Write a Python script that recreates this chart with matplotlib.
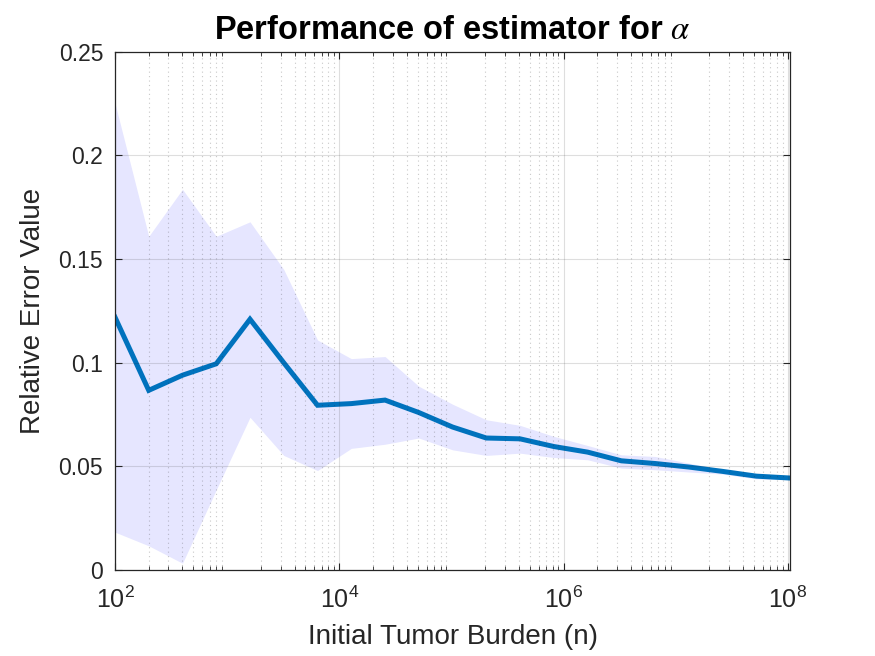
import matplotlib
matplotlib.use("Agg")
import matplotlib.pyplot as plt
import numpy as np
from matplotlib.ticker import FixedLocator, FixedFormatter, LogLocator, NullFormatter

# initial tumor burden: doubling from 100
burden = [100 * 2 ** k for k in range(21)]

mean_err = [0.122, 0.0867, 0.094, 0.0995, 0.121, 0.100, 0.0795, 0.0803, 0.082, 0.076,
            0.069, 0.0637, 0.0633, 0.0596, 0.0569, 0.0527, 0.0514, 0.0497, 0.0476, 0.0453,
            0.0444]
upper_err = [0.2253, 0.161, 0.1837, 0.161, 0.168, 0.145, 0.111, 0.102, 0.103, 0.0887,
             0.080, 0.0725, 0.0698, 0.0645, 0.0601, 0.0556, 0.0548, 0.0516, 0.0484, 0.0463,
             0.0452]
lower_err = [0.0183, 0.0117, 0.0033, 0.0387, 0.0737, 0.0553, 0.048, 0.0587, 0.0607, 0.0637,
             0.058, 0.0553, 0.0564, 0.0543, 0.0532, 0.0492, 0.0484, 0.0473, 0.0463, 0.0440,
             0.0436]

y_ticks = [0, 0.05, 0.1, 0.15, 0.2, 0.25]
y_tick_labels = ["0", "0.05", "0.1", "0.15", "0.2", "0.25"]
x_ticks = [1e2, 1e4, 1e6, 1e8]
x_tick_labels = [r"$\mathregular{10^{2}}$", r"$\mathregular{10^{4}}$",
                 r"$\mathregular{10^{6}}$", r"$\mathregular{10^{8}}$"]

plt.rcParams.update({
    "font.family": ["Liberation Sans", "DejaVu Sans"],
    "mathtext.fontset": "stix",
    "axes.edgecolor": "#262626",
    "xtick.color": "#262626",
    "ytick.color": "#262626",
    "xtick.direction": "in",
    "ytick.direction": "in",
})

fig = plt.figure(figsize=(8.75, 6.56), dpi=100)
ax = fig.add_axes([0.1314, 0.131, 0.7716, 0.790])

ax.fill_between(burden, lower_err, upper_err, color=(0.9, 0.9, 1.0), linewidth=0)
ax.plot(burden, mean_err, color="#0072BD", linewidth=3.6, solid_joinstyle="miter")

ax.set_xscale("log")
ax.set_xlim(burden[0], burden[-1])
ax.set_ylim(0, 0.25)

ax.xaxis.set_major_locator(FixedLocator(x_ticks))
ax.xaxis.set_major_formatter(FixedFormatter(x_tick_labels))
ax.xaxis.set_minor_locator(LogLocator(base=10, subs=np.arange(2, 10), numticks=20))
ax.xaxis.set_minor_formatter(NullFormatter())
ax.yaxis.set_major_locator(FixedLocator(y_ticks))
ax.yaxis.set_major_formatter(FixedFormatter(y_tick_labels))

ax.tick_params(which="both", top=True, right=True)
ax.tick_params(which="major", length=5, width=0.8)
ax.tick_params(which="minor", length=3, width=0.6)
ax.tick_params(axis="y", which="major", pad=8.5, labelsize=16.5)
ax.tick_params(axis="x", which="major", pad=12, labelsize=18)

ax.grid(True, which="major", color="#262626", alpha=0.15, linewidth=0.8)
ax.grid(True, which="minor", axis="x", color="#262626", alpha=0.25,
        linewidth=0.8, linestyle=(0, (1, 3)))
ax.set_axisbelow(False)
for s in ax.spines.values():
    s.set_linewidth(0.9)
    s.set_zorder(5)

ax.set_xlabel("Initial Tumor Burden (n)", fontsize=20, color="#262626", labelpad=8)
ax.set_ylabel("Relative Error Value", fontsize=20, color="#262626", labelpad=9)
ax.set_title(r"Performance of estimator for $\alpha$", fontsize=23.5, fontweight="bold",
             pad=9)

fig.savefig("out.png", dpi=100, facecolor="white")
